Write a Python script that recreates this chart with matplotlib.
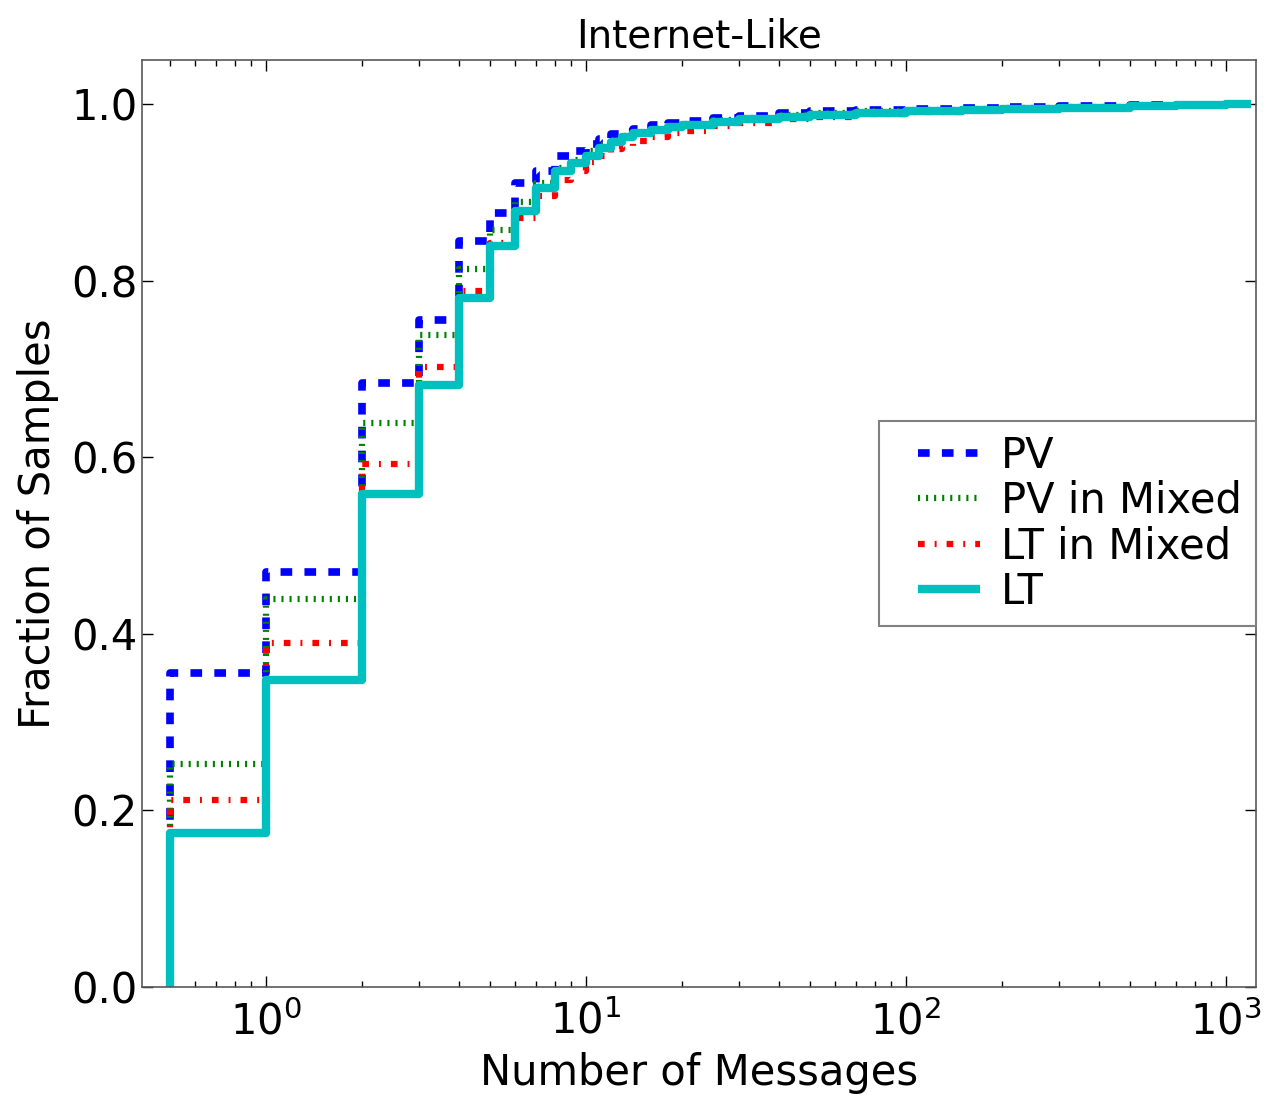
import numpy as np
import matplotlib
matplotlib.use("Agg")
import matplotlib.pyplot as plt
from matplotlib.legend_handler import HandlerLine2D

# number of messages (step positions) and CDF values per protocol
x_msgs = [0.5, 1, 2, 3, 4, 5, 6, 7, 8, 9, 10, 11, 12, 13, 14, 16, 18, 20, 25, 30,
          40, 50, 70, 100, 150, 200, 300, 500, 700, 1000, 1200]

pv = [0.356, 0.470, 0.684, 0.756, 0.845, 0.877, 0.911, 0.925, 0.941, 0.947, 0.955,
      0.961, 0.966, 0.969, 0.972, 0.976, 0.979, 0.981, 0.985, 0.987, 0.990, 0.992,
      0.994, 0.995, 0.996, 0.997, 0.998, 0.999, 0.9995, 1.0, 1.0]
pv_mixed = [0.253, 0.440, 0.639, 0.739, 0.813, 0.858, 0.889, 0.911, 0.928, 0.937, 0.947,
            0.954, 0.960, 0.964, 0.968, 0.972, 0.975, 0.978, 0.982, 0.985, 0.988, 0.990,
            0.992, 0.994, 0.995, 0.996, 0.997, 0.998, 0.999, 1.0, 1.0]
lt_mixed = [0.212, 0.390, 0.593, 0.702, 0.789, 0.843, 0.871, 0.896, 0.914, 0.925, 0.935,
            0.942, 0.949, 0.953, 0.958, 0.963, 0.967, 0.970, 0.975, 0.979, 0.983, 0.986,
            0.989, 0.991, 0.993, 0.995, 0.996, 0.998, 0.999, 1.0, 1.0]
lt = [0.174, 0.348, 0.559, 0.682, 0.780, 0.840, 0.879, 0.905, 0.924, 0.933, 0.942,
      0.950, 0.957, 0.963, 0.967, 0.971, 0.974, 0.977, 0.980, 0.983, 0.986, 0.988,
      0.990, 0.992, 0.994, 0.995, 0.996, 0.998, 0.999, 1.0, 1.0]

labels = ["PV", "PV in Mixed", "LT in Mixed", "LT"]


def main():
    plt.rcParams['lines.scale_dashes'] = False
    plt.rcParams['font.family'] = 'DejaVu Sans'

    fig = plt.figure(figsize=(12.71, 10.94), dpi=100)
    ax = fig.add_axes([0.1117, 0.0978, 0.8763, 0.8472])

    xs = [x_msgs[0]] + x_msgs
    styles = [
        dict(color='b', lw=5.5, dashes=(8.4, 8.8)),
        dict(color='g', lw=4.5, dashes=(1.5, 4.3)),
        dict(color='r', lw=4.5, dashes=(4.8, 7.2, 1.4, 7.2)),
        dict(color='c', lw=6, linestyle='-'),
    ]
    for vals, lab, st in zip([pv, pv_mixed, lt_mixed, lt], labels, styles):
        ax.step(xs, [0] + vals, where='post', label=lab, solid_capstyle='butt',
                dash_capstyle='butt', **st)

    ax.set_xscale('log')
    ax.set_xlim(0.41, 1240)
    ax.set_ylim(0, 1.05)
    ax.set_yticks([0.0, 0.2, 0.4, 0.6, 0.8, 1.0])

    ax.tick_params(which='both', direction='in', top=True, right=True, labelsize=30)
    ax.tick_params(which='major', length=8, width=1)
    ax.tick_params(which='minor', length=4, width=1)
    ax.tick_params(axis='y', pad=3)
    ax.tick_params(axis='x', pad=10)
    for sp in ax.spines.values():
        sp.set_color('0.35')
        sp.set_linewidth(1.2)

    ax.set_title('Internet-Like', fontsize=28, pad=9)
    ax.set_xlabel('Number of Messages', fontsize=30, labelpad=6)
    ax.set_ylabel('Fraction of Samples', fontsize=30, labelpad=9)

    leg = ax.legend(loc='center right', bbox_to_anchor=(1.0, 0.5), fontsize=30,
                    fancybox=False, handlelength=2.1, handletextpad=0.5,
                    labelspacing=0.08, borderpad=0.33, borderaxespad=0.0,
                    framealpha=1, handler_map={plt.Line2D: HandlerLine2D(xpad=0.6)})
    leg.get_frame().set_edgecolor('0.5')
    leg.get_frame().set_linewidth(1.5)

    fig.savefig('out.png', dpi=100)


if __name__ == '__main__':
    main()
